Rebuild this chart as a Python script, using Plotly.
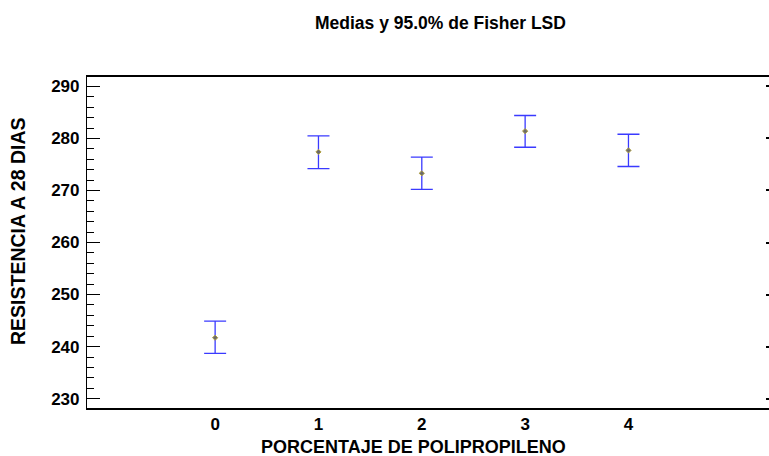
import plotly.graph_objects as go

categories = ["0", "1", "2", "3", "4"]
cat_pos = [0, 1, 2, 3, 4]
means = [241.7, 277.4, 273.3, 281.4, 277.7]
lower = [238.7, 274.2, 270.2, 278.3, 274.6]
upper = [244.9, 280.5, 276.4, 284.4, 280.8]
yticks = [230, 240, 250, 260, 270, 280, 290]

title_text = "Medias y 95.0% de Fisher LSD"
xlabel = "PORCENTAJE DE POLIPROPILENO"
ylabel = "RESISTENCIA A 28 DIAS"

W, H = 769, 456
L, R, T, B = 87, 0, 77, 48
pw, ph = W - L - R, H - T - B

def px(x):
    return (x - L) / pw

def py(y):
    return (H - B - y) / ph

font = dict(family="Liberation Sans, Arial, sans-serif", color="black", weight="bold")

fig = go.Figure()
fig.add_trace(go.Scatter(
    x=cat_pos, y=means, mode="markers",
    marker=dict(size=4, color="#6b6b6b", symbol="diamond", line=dict(color="#b0a040", width=1)),
    error_y=dict(type="data", symmetric=False,
                 array=[u - m for u, m in zip(upper, means)],
                 arrayminus=[m - l for m, l in zip(means, lower)],
                 color="#3a3aff", thickness=1.3, width=11),
    showlegend=False, hoverinfo="skip"))
# invisible trace for right-side axis ticks
fig.add_trace(go.Scatter(x=[cat_pos[0]], y=[means[0]], yaxis="y2", mode="markers",
                         marker=dict(opacity=0), showlegend=False, hoverinfo="skip"))

fig.update_layout(
    width=W, height=H,
    margin=dict(l=L, r=R, t=T, b=B),
    paper_bgcolor="white", plot_bgcolor="white",
    font=dict(size=14, **font),
    xaxis=dict(range=[-1.24, 5.36], tickvals=cat_pos, ticktext=categories,
               showgrid=False, zeroline=False, showline=True, mirror=True,
               linecolor="black", linewidth=1.8, ticks="",
               tickfont=dict(size=17, **font)),
    yaxis=dict(range=[228.2, 291.8], tickvals=yticks, showgrid=False, zeroline=False,
               showline=True, linecolor="black", linewidth=1.2,
               ticks="inside", ticklen=13, tickcolor="black", tickwidth=1,
               minor=dict(ticks="inside", ticklen=7, dtick=2, tickcolor="black", tickwidth=1),
               tickfont=dict(size=17, **font), ticklabelstandoff=3),
    yaxis2=dict(range=[228.2, 291.8], overlaying="y", side="right", tickvals=yticks,
                showticklabels=False, showgrid=False, zeroline=False, showline=False,
                ticks="inside", ticklen=3, tickcolor="black", tickwidth=2),
    annotations=[
        dict(text=title_text, x=px(440), y=py(23), xref="paper", yref="paper",
             showarrow=False, xanchor="center", yanchor="middle", font=dict(size=17.5, **font)),
        dict(text=xlabel, x=px(413), y=py(447), xref="paper", yref="paper",
             showarrow=False, xanchor="center", yanchor="middle", font=dict(size=18, **font)),
        dict(text=ylabel, x=px(18), y=py(231), xref="paper", yref="paper", textangle=-90,
             showarrow=False, xanchor="center", yanchor="middle", font=dict(size=19.5, **font)),
    ],
)

fig.write_html("out.html")
